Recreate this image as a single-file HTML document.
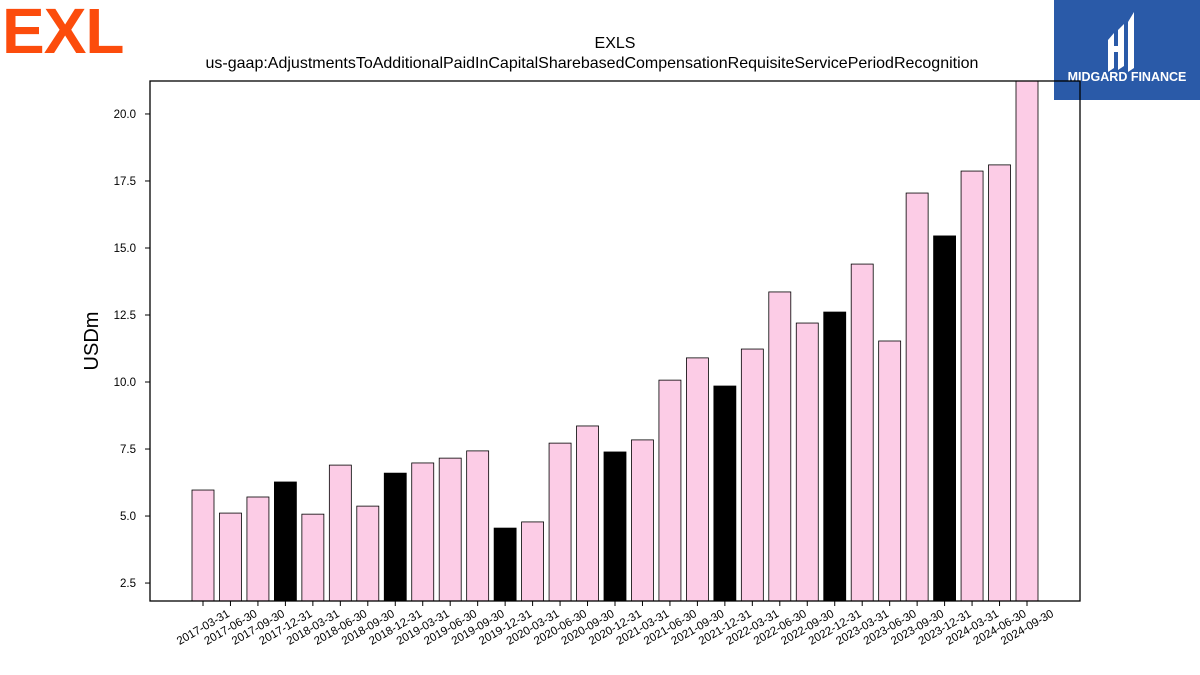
<!DOCTYPE html>
<html><head><meta charset="utf-8"><style>
body{margin:0;background:#fff;width:1200px;height:675px;overflow:hidden;position:relative;font-family:"Liberation Sans","DejaVu Sans",sans-serif}
</style></head><body>
<div style="position:absolute;left:2px;top:-6px;font:bold 64px 'Liberation Sans',sans-serif;color:#fc4c0c;letter-spacing:-1px">EXL</div>
<div style="position:absolute;left:1054px;top:0;width:146px;height:100px;background:#2a5aa8">
<svg width="146" height="100"><g fill="#fff"><path d="M54 40 L60 33 L60 68 L54 72Z"/><path d="M64 30 L70 24 L70 66 L64 70Z"/><path d="M74 22 L80 12 L80 68 L74 72Z"/><rect x="60" y="46" width="10" height="6"/></g>
<text x="73" y="81" text-anchor="middle" fill="#fff" font-size="12.5" font-weight="bold" font-family="Liberation Sans,sans-serif">MIDGARD FINANCE</text></svg></div>
<svg id="c" width="1200" height="675" style="position:absolute;left:0;top:0">
<text x="615" y="48" text-anchor="middle" font-size="16">EXLS</text>
<text x="592" y="68" text-anchor="middle" font-size="16">us-gaap:AdjustmentsToAdditionalPaidInCapitalSharebasedCompensationRequisiteServicePeriodRecognition</text>
<text transform="translate(98,341) rotate(-90)" text-anchor="middle" font-size="20">USDm</text>
<g id="plot"></g>
</svg>
<script>
const categories=["2017-03-31","2017-06-30","2017-09-30","2017-12-31","2018-03-31","2018-06-30","2018-09-30","2018-12-31","2019-03-31","2019-06-30","2019-09-30","2019-12-31","2020-03-31","2020-06-30","2020-09-30","2020-12-31","2021-03-31","2021-06-30","2021-09-30","2021-12-31","2022-03-31","2022-06-30","2022-09-30","2022-12-31","2023-03-31","2023-06-30","2023-09-30","2023-12-31","2024-03-31","2024-06-30","2024-09-30"];
const values=[5.97,5.11,5.71,6.27,5.07,6.90,5.37,6.60,6.98,7.16,7.43,4.55,4.78,7.72,8.36,7.39,7.84,10.07,10.90,9.85,11.23,13.36,12.20,12.61,14.40,11.53,17.05,15.45,17.87,18.10,21.5];
const yTicks=[2.5,5.0,7.5,10.0,12.5,15.0,17.5,20.0];
const L=150,R=1080,T=81,B=601,yMin=1.83,yMax=21.23;
const y=v=>B-(v-yMin)/(yMax-yMin)*(B-T);
const x=i=>203+i*(1027-203)/(categories.length-1);
const NS="http://www.w3.org/2000/svg",g=document.getElementById('plot');
function el(t,a){const e=document.createElementNS(NS,t);for(const k in a)e.setAttribute(k,a[k]);g.appendChild(e);return e;}
const cp=el('clipPath',{id:'cl'});const cr=document.createElementNS(NS,'rect');cr.setAttribute('x',L);cr.setAttribute('y',T);cr.setAttribute('width',R-L);cr.setAttribute('height',B-T);cp.appendChild(cr);
values.forEach((v,i)=>{const dark=categories[i].endsWith('12-31');
const b=el('rect',{x:x(i)-11,y:y(v),width:22,height:B-y(v),fill:dark?'#000':'#fccce6',stroke:'#000','stroke-width':0.8,'clip-path':'url(#cl)'});


el('line',{x1:x(i),x2:x(i),y1:B,y2:B+5,stroke:'#000'});
const t=el('text',{x:x(i),y:B+30,'text-anchor':'middle','font-size':11.5,transform:`rotate(-30 ${x(i)} ${B+26})`});t.textContent=categories[i];

});
yTicks.forEach(v=>{el('line',{x1:L-5,x2:L,y1:y(v),y2:y(v),stroke:'#000'});
const t=el('text',{x:L-14,y:y(v)+4,'text-anchor':'end','font-size':11.5});t.textContent=v.toFixed(1);

});
const f=el('rect',{x:L,y:T,width:R-L,height:B-T,fill:'none',stroke:'#000','stroke-width':1.3});


</script>
</body></html>
